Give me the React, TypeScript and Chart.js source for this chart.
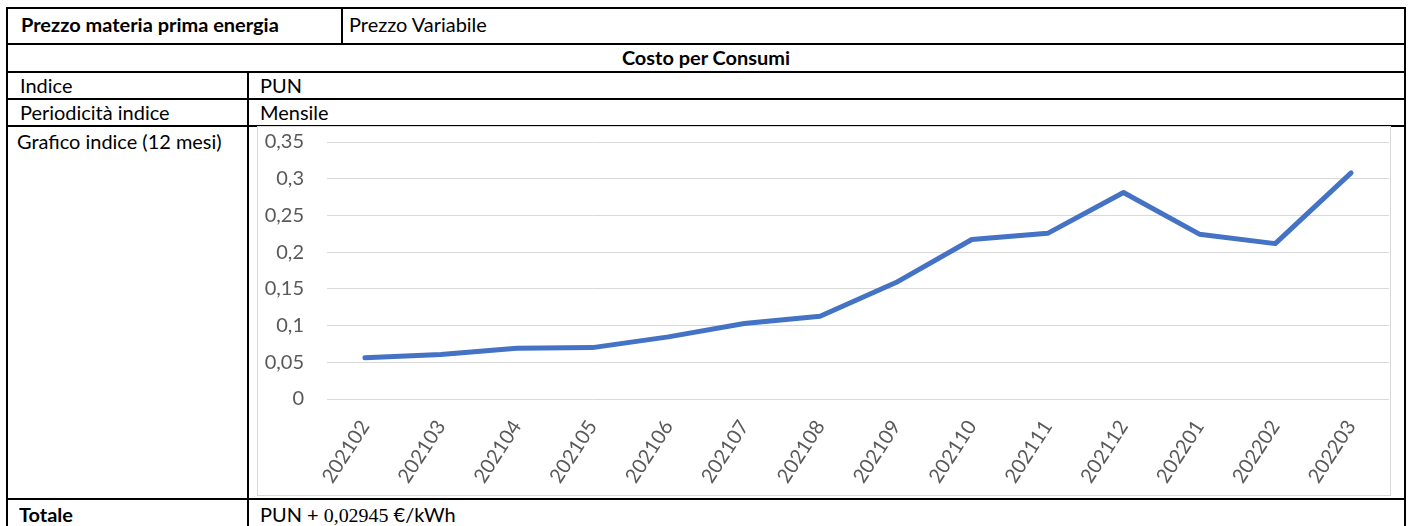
import React, { useEffect, useRef } from "react";
import { Chart, registerables } from "chart.js";

Chart.register(...registerables);

const months: string[] = [
  "202102", "202103", "202104", "202105", "202106", "202107", "202108",
  "202109", "202110", "202111", "202112", "202201", "202202", "202203",
];
const punValues: number[] = [
  0.05604, 0.06046, 0.06901, 0.06999, 0.08462, 0.10273, 0.11281,
  0.15856, 0.21728, 0.22561, 0.28123, 0.22451, 0.21161, 0.308,
];
const yMin = 0;
const yMax = 0.35;
const yStep = 0.05;

const FONT = "Lato, 'Open Sans', sans-serif";
const LINE = "#000";

function HLine({ x, y, w }: { x: number; y: number; w: number }) {
  return <div style={{ position: "absolute", left: x, top: y, width: w, height: 2, background: LINE }} />;
}
function VLine({ x, y, h }: { x: number; y: number; h: number }) {
  return <div style={{ position: "absolute", left: x, top: y, width: 2, height: h, background: LINE }} />;
}
function Txt({ x, y, h, bold, children, w, center }: any) {
  return (
    <div
      style={{
        position: "absolute",
        left: x,
        top: y,
        height: h,
        lineHeight: h + "px",
        width: w,
        textAlign: center ? "center" : "left",
        fontFamily: FONT,
        fontSize: 19,
        fontWeight: bold ? 700 : 400,
        color: "#000",
        whiteSpace: "nowrap",
        transform: "scaleX(1.05)",
        transformOrigin: center ? "center" : "left",
      }}
    >
      {children}
    </div>
  );
}

function PunChart() {
  const ref = useRef<HTMLCanvasElement | null>(null);
  useEffect(() => {
    if (!ref.current) return;
    const chart = new Chart(ref.current, {
      type: "line",
      data: {
        labels: months,
        datasets: [
          {
            data: punValues,
            borderColor: "#4472C4",
            backgroundColor: "#4472C4",
            borderWidth: 5,
            pointRadius: 0,
            borderCapStyle: "round",
            borderJoinStyle: "round",
            tension: 0,
          },
        ],
      },
      options: {
        animation: false,
        responsive: false,
        layout: { padding: { top: 15, right: 1, left: 0, bottom: 0 } },
        plugins: { legend: { display: false }, tooltip: { enabled: false } },
        scales: {
          x: {
            offset: true,
            grid: { display: false, drawTicks: false },
            border: { display: false },
            ticks: {
              autoSkip: false,
              minRotation: 57,
              maxRotation: 57,
              padding: 17,
              color: "#595959",
              font: { family: FONT, size: 20 },
            },
            afterFit: (s: any) => {
              s.height = 96;
              s.paddingLeft = 0;
              s.paddingRight = 0;
            },
          },
          y: {
            min: yMin,
            max: yMax,
            grid: { color: "#d9d9d9", lineWidth: 1, drawTicks: false },
            border: { display: false },
            ticks: {
              stepSize: yStep,
              padding: 23,
              color: "#595959",
              font: { family: FONT, size: 20 },
              callback: (v: any) => String(Number(Number(v).toFixed(2))).replace(".", ","),
            },
            afterFit: (s: any) => {
              s.width = 69;
              s.paddingTop = 0;
              s.paddingBottom = 0;
            },
          },
        },
      },
    });
    return () => chart.destroy();
  }, []);
  return <canvas ref={ref} width={1132} height={368} style={{ width: 1132, height: 368, display: "block" }} />;
}

export default function App() {
  return (
    <div style={{ position: "absolute", left: 0, top: 0, width: 1408, height: 526, overflow: "hidden", background: "#fff" }}>
      {/* horizontal lines */}
      <HLine x={6} y={7} w={1400} />
      <HLine x={6} y={43} w={1400} />
      <HLine x={6} y={71} w={1400} />
      <HLine x={6} y={98} w={1400} />
      <HLine x={6} y={125} w={1400} />
      <HLine x={6} y={498} w={1400} />
      {/* vertical lines */}
      <VLine x={6} y={7} h={530} />
      <VLine x={1404} y={7} h={530} />
      <VLine x={341} y={7} h={38} />
      <VLine x={247} y={71} h={470} />

      <Txt x={21} y={8} h={34} bold>Prezzo materia prima energia</Txt>
      <Txt x={349} y={8} h={34}>Prezzo Variabile</Txt>
      <Txt x={8} y={45} h={26} w={1396} bold center>Costo per Consumi</Txt>
      <Txt x={20} y={73} h={25}>Indice</Txt>
      <Txt x={260} y={73} h={25}>PUN</Txt>
      <Txt x={20} y={100} h={25}>Periodicità indice</Txt>
      <Txt x={260} y={100} h={25}>Mensile</Txt>
      <Txt x={17} y={128} h={28}>Grafico indice (12 mesi)</Txt>
      <Txt x={19} y={501} h={28} bold>Totale</Txt>
      <Txt x={260} y={501} h={28}>
        PUN + <span style={{ fontFamily: "'Liberation Serif', serif" }}>0,02945</span> €/kWh
      </Txt>

      <div
        style={{
          position: "absolute",
          left: 257,
          top: 126,
          width: 1134,
          height: 370,
          border: "1px solid #d9d9d9",
          boxSizing: "border-box",
          background: "#fff",
        }}
      >
        <PunChart />
      </div>
    </div>
  );
}
